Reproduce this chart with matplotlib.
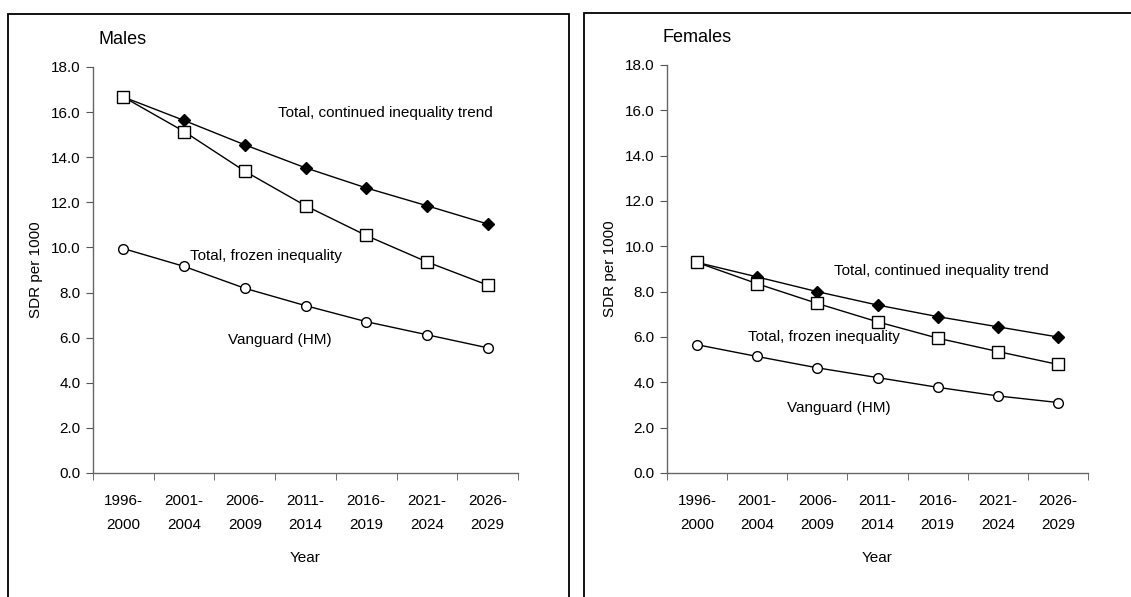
import matplotlib
matplotlib.use("Agg")
import matplotlib.pyplot as plt
from matplotlib.patches import Rectangle
import numpy as np

plt.rcParams['font.family'] = ['Liberation Sans', 'DejaVu Sans']

periods = ["1996-\n2000", "2001-\n2004", "2006-\n2009", "2011-\n2014",
           "2016-\n2019", "2021-\n2024", "2026-\n2029"]

males_continued = [16.67, 15.63, 14.55, 13.53, 12.64, 11.85, 11.04]
males_frozen = [16.67, 15.14, 13.38, 11.85, 10.53, 9.36, 8.33]
males_vanguard = [9.95, 9.16, 8.19, 7.42, 6.71, 6.13, 5.55]

females_continued = [9.29, 8.65, 8.0, 7.41, 6.9, 6.45, 6.0]
females_frozen = [9.29, 8.35, 7.48, 6.67, 5.95, 5.36, 4.79]
females_vanguard = [5.66, 5.14, 4.64, 4.21, 3.78, 3.40, 3.11]

W, H = 1131, 597
fig = plt.figure(figsize=(W / 100, H / 100), dpi=100)

def fx(px):
    return px / W

def fy(py):
    return 1 - py / H

# panel frames
fig.patches.append(Rectangle((fx(8), fy(620)), fx(569 - 8), fy(14) - fy(620),
                             transform=fig.transFigure, fill=False,
                             edgecolor='black', linewidth=1.3))
fig.patches.append(Rectangle((fx(584), fy(620)), fx(1160 - 584), fy(13) - fy(620),
                             transform=fig.transFigure, fill=False,
                             edgecolor='black', linewidth=1.3))

def make_panel(left, right, top, bottom, title, cont, froz, vang, labels, title_x, title_y):
    ax = fig.add_axes([fx(left), fy(bottom), fx(right - left), fy(top) - fy(bottom)])
    x = np.arange(len(periods))
    ax.plot(x, cont, color='black', lw=1.0, marker='D', markersize=6.5,
            markerfacecolor='black', markeredgecolor='black', zorder=3)
    ax.plot(x, froz, color='black', lw=1.0, marker='s', markersize=8,
            markerfacecolor='white', markeredgecolor='black', markeredgewidth=1.0, zorder=4)
    ax.plot(x, vang, color='black', lw=1.0, marker='o', markersize=7,
            markerfacecolor='white', markeredgecolor='black', markeredgewidth=1.0, zorder=3)
    ax.set_xlim(-0.5, len(periods) - 0.5)
    ax.set_ylim(0, 18)
    ax.set_yticks(np.arange(0, 18.1, 2))
    ax.set_yticklabels([f"{v:.1f}" for v in np.arange(0, 18.1, 2)], fontsize=11)
    ax.set_xticks(x)
    ax.set_xticklabels(periods, fontsize=11, linespacing=1.9)
    ax.set_xticks(np.arange(-0.5, len(periods)), minor=True)
    ax.tick_params(axis='x', which='major', length=0, pad=15)
    ax.tick_params(axis='x', which='minor', length=5, direction='out', color='#555555')
    ax.tick_params(axis='y', length=5, direction='out', color='#555555', pad=4)
    for s in ['top', 'right']:
        ax.spines[s].set_visible(False)
    for s in ['left', 'bottom']:
        ax.spines[s].set_color('#666666')
        ax.spines[s].set_linewidth(1.0)
    ax.set_ylabel("SDR per 1000", fontsize=11, labelpad=6)
    ax.set_xlabel("Year", fontsize=11, labelpad=14)
    fig.text(fx(title_x), fy(title_y), title, fontsize=13, ha='left', va='center')
    for (txt, lx, ly) in labels:
        ax.text(lx, ly, txt, fontsize=11, ha='left', va='center',
                transform=ax.transData, zorder=2)
    return ax

make_panel(93, 518, 67, 473, "Males",
           males_continued, males_frozen, males_vanguard,
           [("Total, continued inequality trend", 2.55, 15.95),
            ("Total, frozen inequality", 1.1, 9.6),
            ("Vanguard (HM)", 1.72, 5.9)],
           99, 40)

make_panel(667, 1088, 65, 473, "Females",
           females_continued, females_frozen, females_vanguard,
           [("Total, continued inequality trend", 2.28, 8.9),
            ("Total, frozen inequality", 0.85, 6.0),
            ("Vanguard (HM)", 1.5, 2.85)],
           662, 38)

fig.savefig("out.png", dpi=100)
